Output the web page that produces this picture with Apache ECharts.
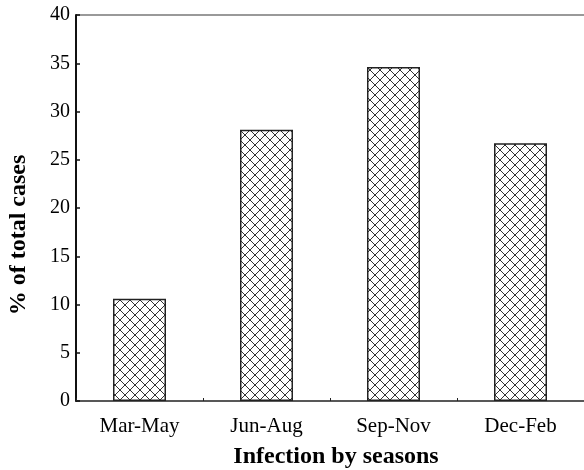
<!DOCTYPE html>
<html>
<head>
<meta charset="utf-8">
<script src="https://cdn.jsdelivr.net/npm/echarts@6/dist/echarts.min.js"></script>
<style>
  html, body { margin: 0; padding: 0; background: #fff; }
  #chart { width: 584px; height: 470px; }
</style>
</head>
<body>
<div id="chart"></div>
<script>
var seasons = ['Mar-May', 'Jun-Aug', 'Sep-Nov', 'Dec-Feb'];
var percentCases = [10.6, 28.1, 34.6, 26.7];
var yTicks = { min: 0, max: 40, interval: 5 };

// cross-hatch fill for the bars
function hatch() {
  var c = document.createElement('canvas');
  c.width = 10; c.height = 10;
  var g = c.getContext('2d');
  g.fillStyle = '#fff';
  g.fillRect(0, 0, 10, 10);
  g.strokeStyle = '#333';
  g.lineWidth = 1;
  g.beginPath();
  g.moveTo(0, 0); g.lineTo(10, 10);
  g.moveTo(10, 0); g.lineTo(0, 10);
  g.stroke();
  return c;
}

var chart = echarts.init(document.getElementById('chart'));
var serif = 'Liberation Serif, Times New Roman, serif';
chart.setOption({
  animation: false,
  grid: { left: 76, right: 0, top: 15, bottom: 69, outerBoundsMode: 'none' },
  xAxis: {
    type: 'category',
    data: seasons,
    name: 'Infection by seasons',
    nameLocation: 'middle',
    nameGap: 44,
    nameTextStyle: { fontFamily: serif, fontWeight: 'bold', fontSize: 24, color: '#000', padding: [0, 0, 0, 12] },
    axisLine: { lineStyle: { color: '#222', width: 1.5 } },
    axisTick: { show: true, inside: true, length: 3, lineStyle: { color: '#222' } },
    axisLabel: { fontFamily: serif, fontSize: 21, color: '#000', margin: 15 }
  },
  yAxis: {
    type: 'value',
    min: yTicks.min,
    max: yTicks.max,
    interval: yTicks.interval,
    name: '% of total cases',
    nameLocation: 'middle',
    nameGap: 45,
    nameTextStyle: { fontFamily: serif, fontWeight: 'bold', fontSize: 24, color: '#000', padding: [0, 54, 0, 0] },
    axisLine: { show: true, lineStyle: { color: '#111', width: 2 } },
    axisTick: { show: true, inside: true, length: 4, lineStyle: { color: '#111', width: 1.5 } },
    axisLabel: { fontFamily: serif, fontSize: 20, color: '#000', margin: 6 },
    splitLine: { show: false }
  },
  graphic: [{
    type: 'line',
    shape: { x1: 76, y1: 15, x2: 584, y2: 15 },
    style: { stroke: '#777', lineWidth: 1.5 }
  }],
  series: [{
    type: 'bar',
    data: percentCases,
    barWidth: 53,
    itemStyle: {
      color: { image: hatch(), repeat: 'repeat' },
      borderColor: '#222',
      borderWidth: 1.5
    }
  }]
});
</script>
</body>
</html>
